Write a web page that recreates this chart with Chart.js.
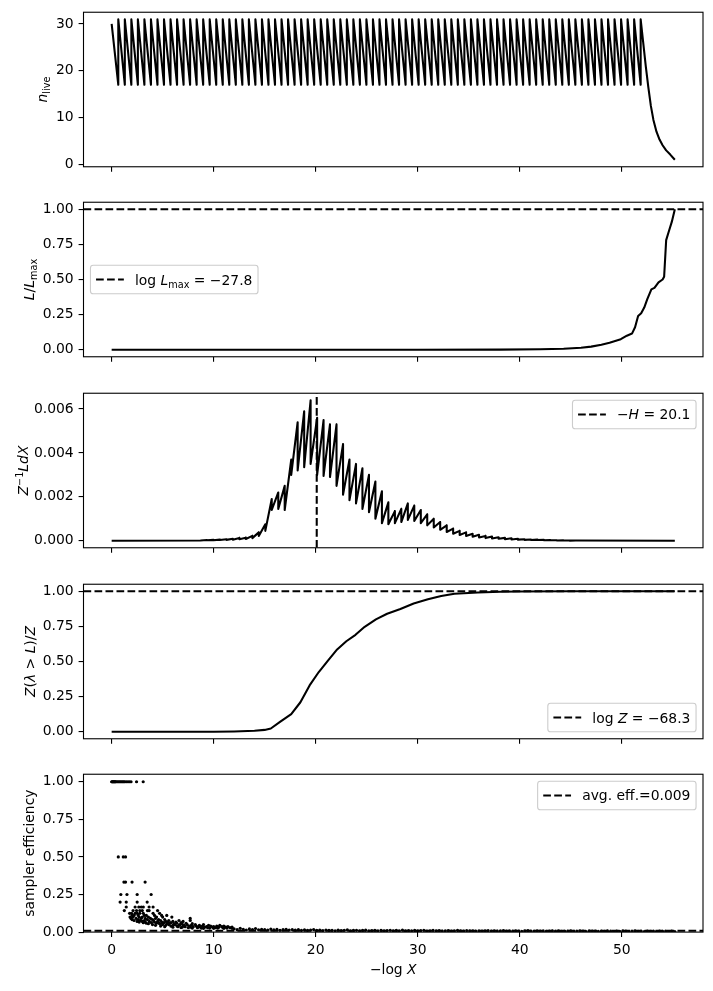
<!DOCTYPE html>
<html>
<head>
<meta charset="utf-8">
<script src="https://cdn.jsdelivr.net/npm/chart.js@4.4.1/dist/chart.umd.min.js"></script>
<style>
  html, body { margin: 0; padding: 0; background: #fff; }
  #fig { position: relative; width: 713px; height: 991px; overflow: hidden; }
  #fig canvas { position: absolute; left: 0; }
</style>
</head>
<body>
<div id="fig"></div>
<script>
// ---- data ----
const xTicks = [0, 10, 20, 30, 40, 50];
const nliveTicks = [0, 10, 20, 30];
const fracTicks = [0, 0.25, 0.5, 0.75, 1.0];
const fracTickLabels = ['0.00', '0.25', '0.50', '0.75', '1.00'];
const weightTicks = [0, 0.002, 0.004, 0.006];
const weightTickLabels = ['0.000', '0.002', '0.004', '0.006'];

// panel 1: number of live points (sawtooth 31 -> 17, then final drain)
const nliveStart = 30;
const nliveHigh = 31;
const nliveLow = 17;
const nliveDropX = [0.65, 1.29, 1.93, 2.57, 3.21, 3.85, 4.49, 5.13, 5.77, 6.41,
  7.05, 7.69, 8.33, 8.97, 9.61, 10.25, 10.89, 11.53, 12.17, 12.81,
  13.45, 14.09, 14.73, 15.37, 16.01, 16.65, 17.29, 17.93, 18.57, 19.21,
  19.85, 20.49, 21.13, 21.77, 22.41, 23.05, 23.69, 24.33, 24.97, 25.61,
  26.25, 26.89, 27.53, 28.17, 28.81, 29.45, 30.09, 30.73, 31.37, 32.01,
  32.65, 33.29, 33.93, 34.57, 35.21, 35.85, 36.49, 37.13, 37.77, 38.41,
  39.05, 39.69, 40.33, 40.97, 41.61, 42.25, 42.89, 43.53, 44.17, 44.81,
  45.45, 46.09, 46.73, 47.37, 48.01, 48.65, 49.29, 49.93, 50.57, 51.21, 51.85];
const nliveTailX = [52.1, 52.35, 52.6, 52.85, 53.1, 53.4, 53.7, 54.0, 54.35, 54.75, 55.2];
const nliveTailY = [26, 21, 16.5, 12.5, 9.5, 7, 5.3, 4.1, 3.0, 2.1, 1.0];

// panel 2: L / Lmax
const likeX = [0, 30, 38, 42, 44.3, 46, 47, 48, 48.8, 49.9, 50.5, 51.0, 51.3, 51.6, 51.9,
  52.2, 52.5, 52.9, 53.2, 53.6, 54.0, 54.15, 54.35, 54.6, 54.9, 55.2];
const likeY = [0, 0, 0.001, 0.004, 0.007, 0.014, 0.022, 0.035, 0.05, 0.075, 0.1, 0.115, 0.16, 0.24, 0.26,
  0.3, 0.36, 0.43, 0.44, 0.48, 0.5, 0.52, 0.78, 0.84, 0.91, 1.0];
const logLmax = '\u221227.8';

// panel 3: importance weight Z^-1 L dX (tooth positions, peaks, troughs)
const weightLeadX = [0, 8.7];
const weightLeadY = [0, 0.00001];
const weightX = [9.34, 9.98, 10.61, 11.25, 11.88, 12.52, 13.15, 13.79, 14.42, 15.06,
  15.69, 16.33, 16.96, 17.6, 18.23, 18.87, 19.5, 20.14, 20.77, 21.4,
  22.04, 22.68, 23.31, 23.95, 24.58, 25.22, 25.85, 26.49, 27.12, 27.76,
  28.39, 29.03, 29.66, 30.3, 30.93, 31.57, 32.2, 32.84, 33.47, 34.11,
  34.74, 35.38, 36.01, 36.65, 37.28, 37.92, 38.55, 39.19, 39.82, 40.46,
  41.09, 41.73, 42.36, 43.0, 43.63, 44.27, 44.9];
const weightPeak = [0.00003, 0.00004, 0.00005, 0.00007, 0.00009, 0.00013, 0.00014, 0.00022, 0.00038, 0.00075,
  0.0019, 0.0022, 0.0025, 0.0037, 0.0054, 0.0059, 0.0064, 0.0056, 0.0055, 0.0053,
  0.0053, 0.0044, 0.0037, 0.0035, 0.0033, 0.0030, 0.0027, 0.00225, 0.00175, 0.00135,
  0.00145, 0.0017, 0.0016, 0.0014, 0.0012, 0.0010, 0.00085, 0.0007, 0.00055, 0.00045,
  0.00038, 0.00032, 0.00027, 0.00022, 0.00019, 0.00016, 0.00013, 0.00011, 0.00009, 0.00007,
  0.00006, 0.00005, 0.00004, 0.00003, 0.00002, 0.00002, 0.00001];
const weightTrough = [0.00002, 0.00002, 0.00003, 0.00004, 0.00005, 0.00007, 0.00008, 0.00012, 0.00022, 0.00045,
  0.0014, 0.00145, 0.0014, 0.0030, 0.0032, 0.00335, 0.0035, 0.0030, 0.00295, 0.0029,
  0.0025, 0.0021, 0.00185, 0.0017, 0.00145, 0.0013, 0.0010, 0.0008, 0.00075, 0.0008,
  0.00085, 0.00095, 0.0009, 0.0008, 0.0007, 0.0006, 0.0005, 0.0004, 0.00032, 0.00026,
  0.00022, 0.00018, 0.00015, 0.00012, 0.0001, 0.00009, 0.00007, 0.00006, 0.00005, 0.00004,
  0.00003, 0.00003, 0.00002, 0.00002, 0.00001, 0.00001, 0.000005];
const weightTailX = [45.5, 55.2];
const weightTailY = [0.00001, 0];
const negH = 20.1;

// panel 4: cumulative evidence
const evidX = [0, 10, 12, 14, 15, 15.6, 16.5, 17.6, 18.5, 19.4, 20.3, 21.2, 22.1, 23.0, 23.9,
  24.8, 25.9, 27.0, 28.3, 29.6, 31.0, 32.3, 33.6, 35.9, 38.1, 40, 45, 55.2];
const evidY = [0, 0, 0.002, 0.007, 0.013, 0.023, 0.07, 0.126, 0.21, 0.33, 0.425, 0.506, 0.586, 0.644, 0.69,
  0.747, 0.8, 0.84, 0.874, 0.913, 0.943, 0.966, 0.982, 0.991, 0.996, 0.998, 0.9995, 1.0];
const logZ = '\u221268.3';

// panel 5: sampler efficiency (early points grouped by level, then the dense tail)
const effLevels = [1, 0.5, 0.333, 0.25, 0.2, 0.167, 0.143, 0.125, 0.111, 0.1, 0.091, 0.083, 0.077,
  0.071, 0.067, 0.0625, 0.059, 0.056, 0.05, 0.045, 0.04, 0.036, 0.033, 0.03, 0.027, 0.025];
const effLevelX = [
  [0.0, 0.05, 0.1, 0.15, 0.2, 0.25, 0.3, 0.35, 0.4, 0.5, 0.6, 0.7, 0.8, 0.9, 1.0, 1.1, 1.2, 1.3, 1.45, 1.6, 1.75, 1.9, 2.44, 3.09],
  [0.65, 1.14, 1.36],
  [1.2, 1.36, 2.0, 3.28],
  [0.9, 1.5, 2.5, 3.87],
  [0.83, 1.43, 2.5, 3.48],
  [1.43, 2.3, 2.66, 2.9, 3.1, 3.67, 4.06],
  [1.24, 2.1, 2.44, 2.76, 3.0, 3.51, 3.67, 4.5],
  [1.76, 1.95, 2.3, 2.5, 2.76, 3.1, 4.06, 4.7],
  [2.0, 2.2, 2.6, 3.2, 3.4, 4.2, 4.9, 5.4],
  [1.8, 2.1, 2.7, 3.0, 3.6, 4.4, 5.0, 5.9],
  [1.9, 2.4, 2.9, 3.3, 3.8, 4.3, 7.7],
  [2.0, 2.6, 3.5, 4.0, 4.6, 5.2],
  [2.2, 2.8, 3.2, 4.1, 4.8, 5.6, 6.6, 7.7],
  [2.5, 3.0, 3.7, 4.5, 5.3, 6.0, 7.0],
  [2.7, 3.3, 4.2, 4.9, 5.5, 6.3],
  [3.1, 3.9, 4.6, 5.1, 5.8, 6.8],
  [3.4, 4.4, 5.0, 5.7, 6.4, 7.3],
  [3.6, 4.7, 5.4, 6.1, 6.9, 7.9],
  [4.0, 5.0, 5.6, 6.2, 6.7, 7.4, 8.2, 9.0],
  [4.3, 5.3, 6.0, 6.6, 7.1, 7.8, 8.6, 9.5, 10.6],
  [4.8, 5.8, 6.4, 7.0, 7.6, 8.3, 8.9, 9.7, 10.3, 11.0],
  [5.2, 6.5, 7.2, 8.0, 8.7, 9.3, 10.0, 10.8, 11.4],
  [6.0, 6.9, 7.7, 8.5, 9.1, 9.9, 10.5, 11.2, 11.8],
  [6.8, 7.5, 8.4, 9.4, 10.2, 10.9, 11.6],
  [7.9, 8.8, 9.6, 10.4, 11.3],
  [9.0, 10.0, 11.0, 11.8]
];
const effTailX = [12.0, 12.3, 12.6, 12.9, 13.2, 13.5, 13.8, 14.1, 14.4, 14.7,
  15.0, 15.3, 15.6, 15.9, 16.2, 16.5, 16.8, 17.1, 17.4, 17.7,
  18.0, 18.3, 18.6, 18.9, 19.2, 19.5, 19.8, 20.1, 20.4, 20.7,
  21.0, 21.3, 21.6, 21.9, 22.2, 22.5, 22.8, 23.1, 23.4, 23.7,
  24.0, 24.3, 24.6, 24.9, 25.2, 25.5, 25.8, 26.1, 26.4, 26.7,
  27.0, 27.3, 27.6, 27.9, 28.2, 28.5, 28.8, 29.1, 29.4, 29.7,
  30.0, 30.3, 30.6, 30.9, 31.2, 31.5, 31.8, 32.1, 32.4, 32.7,
  33.0, 33.3, 33.6, 33.9, 34.2, 34.5, 34.8, 35.1, 35.4, 35.7,
  36.0, 36.3, 36.6, 36.9, 37.2, 37.5, 37.8, 38.1, 38.4, 38.7,
  39.0, 39.3, 39.6, 39.9, 40.2, 40.5, 40.8, 41.1, 41.4, 41.7,
  42.0, 42.3, 42.6, 42.9, 43.2, 43.5, 43.8, 44.1, 44.4, 44.7,
  45.0, 45.3, 45.6, 45.9, 46.2, 46.5, 46.8, 47.1, 47.4, 47.7,
  48.0, 48.3, 48.6, 48.9, 49.2, 49.5, 49.8, 50.1, 50.4, 50.7,
  51.0, 51.3, 51.6, 51.9, 52.2, 52.5, 52.8, 53.1, 53.4, 53.7,
  54.0, 54.3, 54.6, 54.9, 55.2];
const effTailY = [0.022, 0.016, 0.025, 0.018, 0.014, 0.021, 0.017, 0.024, 0.015, 0.019,
  0.017, 0.013, 0.020, 0.015, 0.018, 0.012, 0.016, 0.019, 0.014, 0.017,
  0.013, 0.016, 0.011, 0.015, 0.012, 0.014, 0.017, 0.011, 0.013, 0.010,
  0.014, 0.011, 0.012, 0.009, 0.013, 0.010, 0.012, 0.015, 0.009, 0.011,
  0.012, 0.009, 0.011, 0.013, 0.008, 0.010, 0.012, 0.009, 0.011, 0.008,
  0.010, 0.012, 0.008, 0.011, 0.009, 0.013, 0.008, 0.010, 0.009, 0.011,
  0.008, 0.010, 0.012, 0.007, 0.009, 0.011, 0.008, 0.010, 0.007, 0.009,
  0.010, 0.007, 0.009, 0.011, 0.008, 0.006, 0.010, 0.008, 0.009, 0.007,
  0.009, 0.006, 0.008, 0.010, 0.007, 0.009, 0.006, 0.008, 0.010, 0.007,
  0.008, 0.006, 0.009, 0.007, 0.005, 0.008, 0.010, 0.006, 0.007, 0.009,
  0.006, 0.008, 0.005, 0.007, 0.009, 0.006, 0.008, 0.005, 0.007, 0.006,
  0.008, 0.005, 0.007, 0.009, 0.006, 0.004, 0.008, 0.006, 0.007, 0.005,
  0.007, 0.005, 0.008, 0.006, 0.004, 0.007, 0.005, 0.008, 0.006, 0.004,
  0.006, 0.008, 0.005, 0.007, 0.004, 0.006, 0.005, 0.007, 0.004, 0.006,
  0.005, 0.007, 0.004, 0.006, 0.003];
const avgEff = 0.009;

// ---- layout (matches the matplotlib figure) ----
const FIG_W = 713, FIG_H = 991;
const AX_LEFT = 83.5, AX_RIGHT = 703, AX_H = 158.3;
const axTops = [11, 201.7, 392.4, 583.1, 773.8];
const X_MIN = -2.76, X_MAX = 57.96;
const FONT = '"DejaVu Sans", sans-serif';
const FS = 13.9, FS_SMALL = 9.7;
const LW = 2.08;
const DASH = [7.7, 3.3];

Chart.defaults.font.family = FONT;
Chart.defaults.font.size = FS;
Chart.defaults.color = '#000';

function xy(xs, ys) { return xs.map((x, i) => ({ x, y: ys[i] })); }

function nlivePoints() {
  const pts = [{ x: 0, y: nliveStart }];
  nliveDropX.forEach(x => pts.push({ x, y: nliveLow }, { x, y: nliveHigh }));
  return pts.concat(xy(nliveTailX, nliveTailY));
}

function weightPoints() {
  const pts = xy(weightLeadX, weightLeadY);
  weightX.forEach((x, i) => pts.push({ x, y: weightPeak[i] }, { x, y: weightTrough[i] }));
  return pts.concat(xy(weightTailX, weightTailY));
}

function effPoints() {
  const pts = [];
  effLevels.forEach((lv, i) => effLevelX[i].forEach(x => pts.push({ x, y: lv })));
  return pts.concat(xy(effTailX, effTailY));
}

function solid(data) {
  return { data, borderColor: '#000', borderWidth: LW, pointRadius: 0, tension: 0, borderJoinStyle: 'round', fill: false };
}
function dashed(data) {
  return { data, borderColor: '#000', borderWidth: LW, borderDash: DASH, pointRadius: 0, fill: false };
}

// rich text: parts = [{t, it, sub, sup}]
function partFont(p) {
  return (p.it ? 'italic ' : '') + ((p.sub || p.sup) ? FS_SMALL : FS) + 'px ' + FONT;
}
function partShift(p) { return p.sub ? 3.2 : (p.sup ? -5.6 : 0); }
function richWidth(ctx, parts) {
  let w = 0;
  parts.forEach(p => { ctx.font = partFont(p); w += ctx.measureText(p.t).width; });
  return w;
}
function richDescent(ctx, parts) {
  let d = 0;
  parts.forEach(p => { ctx.font = partFont(p); d = Math.max(d, partShift(p) + ctx.measureText(p.t).actualBoundingBoxDescent); });
  return d;
}
function drawRich(ctx, parts, x, y, align) {
  let cx = align === 'center' ? x - richWidth(ctx, parts) / 2 : x;
  ctx.textAlign = 'left';
  ctx.textBaseline = 'alphabetic';
  ctx.fillStyle = '#000';
  parts.forEach(p => {
    ctx.font = partFont(p);
    ctx.fillText(p.t, cx, y + partShift(p));
    cx += ctx.measureText(p.t).width;
  });
}

function drawLegend(ctx, a, lg) {
  const pad = 5.6, handle = 27.8, gap = 11.1, edge = 6.95, h = 28.5;
  const w = pad + handle + gap + richWidth(ctx, lg.text) + pad;
  let x, y;
  if (lg.loc === 'upper right') { x = a.right - edge - w; y = a.top + edge; }
  else if (lg.loc === 'lower right') { x = a.right - edge - w; y = a.bottom - edge - h; }
  else { x = a.left + edge; y = (a.top + a.bottom) / 2 - h / 2; }
  ctx.beginPath();
  ctx.roundRect(x, y, w, h, 2.8);
  ctx.fillStyle = 'rgba(255,255,255,0.8)';
  ctx.fill();
  ctx.strokeStyle = '#cccccc';
  ctx.lineWidth = 1.1;
  ctx.stroke();
  const cy = y + h / 2;
  ctx.beginPath();
  ctx.setLineDash(DASH);
  ctx.strokeStyle = '#000';
  ctx.lineWidth = LW;
  ctx.moveTo(x + pad, cy);
  ctx.lineTo(x + pad + handle, cy);
  ctx.stroke();
  ctx.setLineDash([]);
  drawRich(ctx, lg.text, x + pad + handle + gap, cy + 5, 'left');
}

function decorPlugin(spec) {
  return {
    id: 'decor',
    afterDraw(chart) {
      const ctx = chart.ctx, a = chart.chartArea;
      ctx.save();
      ctx.strokeStyle = '#000';
      ctx.lineWidth = 1.1;
      ctx.strokeRect(a.left, a.top, a.right - a.left, a.bottom - a.top);

      // y label, left of the widest tick label
      ctx.font = FS + 'px ' + FONT;
      const tickW = Math.max(...spec.yLabels.map(s => ctx.measureText(s).width));
      const right = a.left - 4.9 - 4.9 - tickW - 5.6;
      const base = right - richDescent(ctx, spec.ylabel);
      ctx.save();
      ctx.translate(base, (a.top + a.bottom) / 2);
      ctx.rotate(-Math.PI / 2);
      drawRich(ctx, spec.ylabel, 0, 0, 'center');
      ctx.restore();

      if (spec.xlabel) drawRich(ctx, spec.xlabel, (a.left + a.right) / 2, a.bottom + 42, 'center');
      if (spec.legend) drawLegend(ctx, a, spec.legend);
      ctx.restore();
    }
  };
}

function makePanel(i, spec) {
  const padTop = 12;
  const top = Math.floor(axTops[i] - padTop);
  const pt = axTops[i] - top;
  const last = i === axTops.length - 1;
  const room = last ? FIG_H - (axTops[i] + AX_H) : 10;
  const h = Math.ceil(pt + AX_H + room);
  const canvas = document.createElement('canvas');
  canvas.width = FIG_W;
  canvas.height = h;
  canvas.style.width = FIG_W + 'px';
  canvas.style.height = h + 'px';
  canvas.style.top = top + 'px';
  document.getElementById('fig').appendChild(canvas);

  const tickFont = { family: FONT, size: FS };
  const gridOpts = { display: true, drawOnChartArea: false, drawTicks: true, tickLength: 4.9, tickWidth: 1.1, tickColor: '#000', color: '#000', lineWidth: 1.1 };

  new Chart(canvas.getContext('2d'), {
    type: 'line',
    data: { datasets: spec.datasets },
    options: {
      responsive: false,
      animation: false,
      events: [],
      layout: { padding: { left: 0, right: FIG_W - AX_RIGHT, top: pt, bottom: 0 } },
      plugins: { legend: { display: false }, tooltip: { enabled: false } },
      scales: {
        x: {
          type: 'linear', min: X_MIN, max: X_MAX,
          afterBuildTicks: s => { s.ticks = xTicks.map(v => ({ value: v })); },
          afterFit: s => { s.height = h - pt - AX_H; },
          ticks: { display: last, autoSkip: false, maxRotation: 0, padding: 4.9, font: tickFont, color: '#000', callback: v => String(v) },
          grid: gridOpts,
          border: { display: false }
        },
        y: {
          type: 'linear', min: spec.yMin, max: spec.yMax,
          afterBuildTicks: s => { s.ticks = spec.yTicks.map(v => ({ value: v })); },
          afterFit: s => { s.width = AX_LEFT; },
          ticks: { autoSkip: false, padding: 4.9, font: tickFont, color: '#000', callback: (v, idx) => spec.yLabels[idx] },
          grid: gridOpts,
          border: { display: false }
        }
      }
    },
    plugins: [decorPlugin(spec)]
  });
}

makePanel(0, {
  datasets: [solid(nlivePoints())],
  yMin: -0.5, yMax: 32.5, yTicks: nliveTicks, yLabels: nliveTicks.map(String),
  ylabel: [{ t: 'n', it: 1 }, { t: 'live', sub: 1 }]
});

makePanel(1, {
  datasets: [dashed([{ x: X_MIN, y: 1 }, { x: X_MAX, y: 1 }]), solid(xy(likeX, likeY))],
  yMin: -0.05, yMax: 1.05, yTicks: fracTicks, yLabels: fracTickLabels,
  ylabel: [{ t: 'L', it: 1 }, { t: '/' }, { t: 'L', it: 1 }, { t: 'max', sub: 1 }],
  legend: { loc: 'center left', text: [{ t: 'log ' }, { t: 'L', it: 1 }, { t: 'max', sub: 1 }, { t: ' = ' + logLmax }] }
});

makePanel(2, {
  datasets: [dashed([{ x: negH, y: -0.00032 }, { x: negH, y: 0.00672 }]), solid(weightPoints())],
  yMin: -0.00032, yMax: 0.00672, yTicks: weightTicks, yLabels: weightTickLabels,
  ylabel: [{ t: 'Z', it: 1 }, { t: '\u22121', sup: 1 }, { t: 'LdX', it: 1 }],
  legend: { loc: 'upper right', text: [{ t: '\u2212' }, { t: 'H', it: 1 }, { t: ' = ' + negH }] }
});

makePanel(3, {
  datasets: [dashed([{ x: X_MIN, y: 1 }, { x: X_MAX, y: 1 }]), solid(xy(evidX, evidY))],
  yMin: -0.05, yMax: 1.05, yTicks: fracTicks, yLabels: fracTickLabels,
  ylabel: [{ t: 'Z', it: 1 }, { t: '(' }, { t: '\u03bb', it: 1 }, { t: ' > ' }, { t: 'L', it: 1 }, { t: ')/' }, { t: 'Z', it: 1 }],
  legend: { loc: 'lower right', text: [{ t: 'log ' }, { t: 'Z', it: 1 }, { t: ' = ' + logZ }] }
});

makePanel(4, {
  datasets: [
    dashed([{ x: X_MIN, y: avgEff }, { x: X_MAX, y: avgEff }]),
    { data: effPoints(), showLine: false, pointRadius: 1.6, pointBorderWidth: 0, pointBackgroundColor: '#000', borderColor: '#000' }
  ],
  yMin: 0, yMax: 1.05, yTicks: fracTicks, yLabels: fracTickLabels,
  ylabel: [{ t: 'sampler efficiency' }],
  xlabel: [{ t: '\u2212log ' }, { t: 'X', it: 1 }],
  legend: { loc: 'upper right', text: [{ t: 'avg. eff.=' + avgEff }] }
});
</script>
</body>
</html>
